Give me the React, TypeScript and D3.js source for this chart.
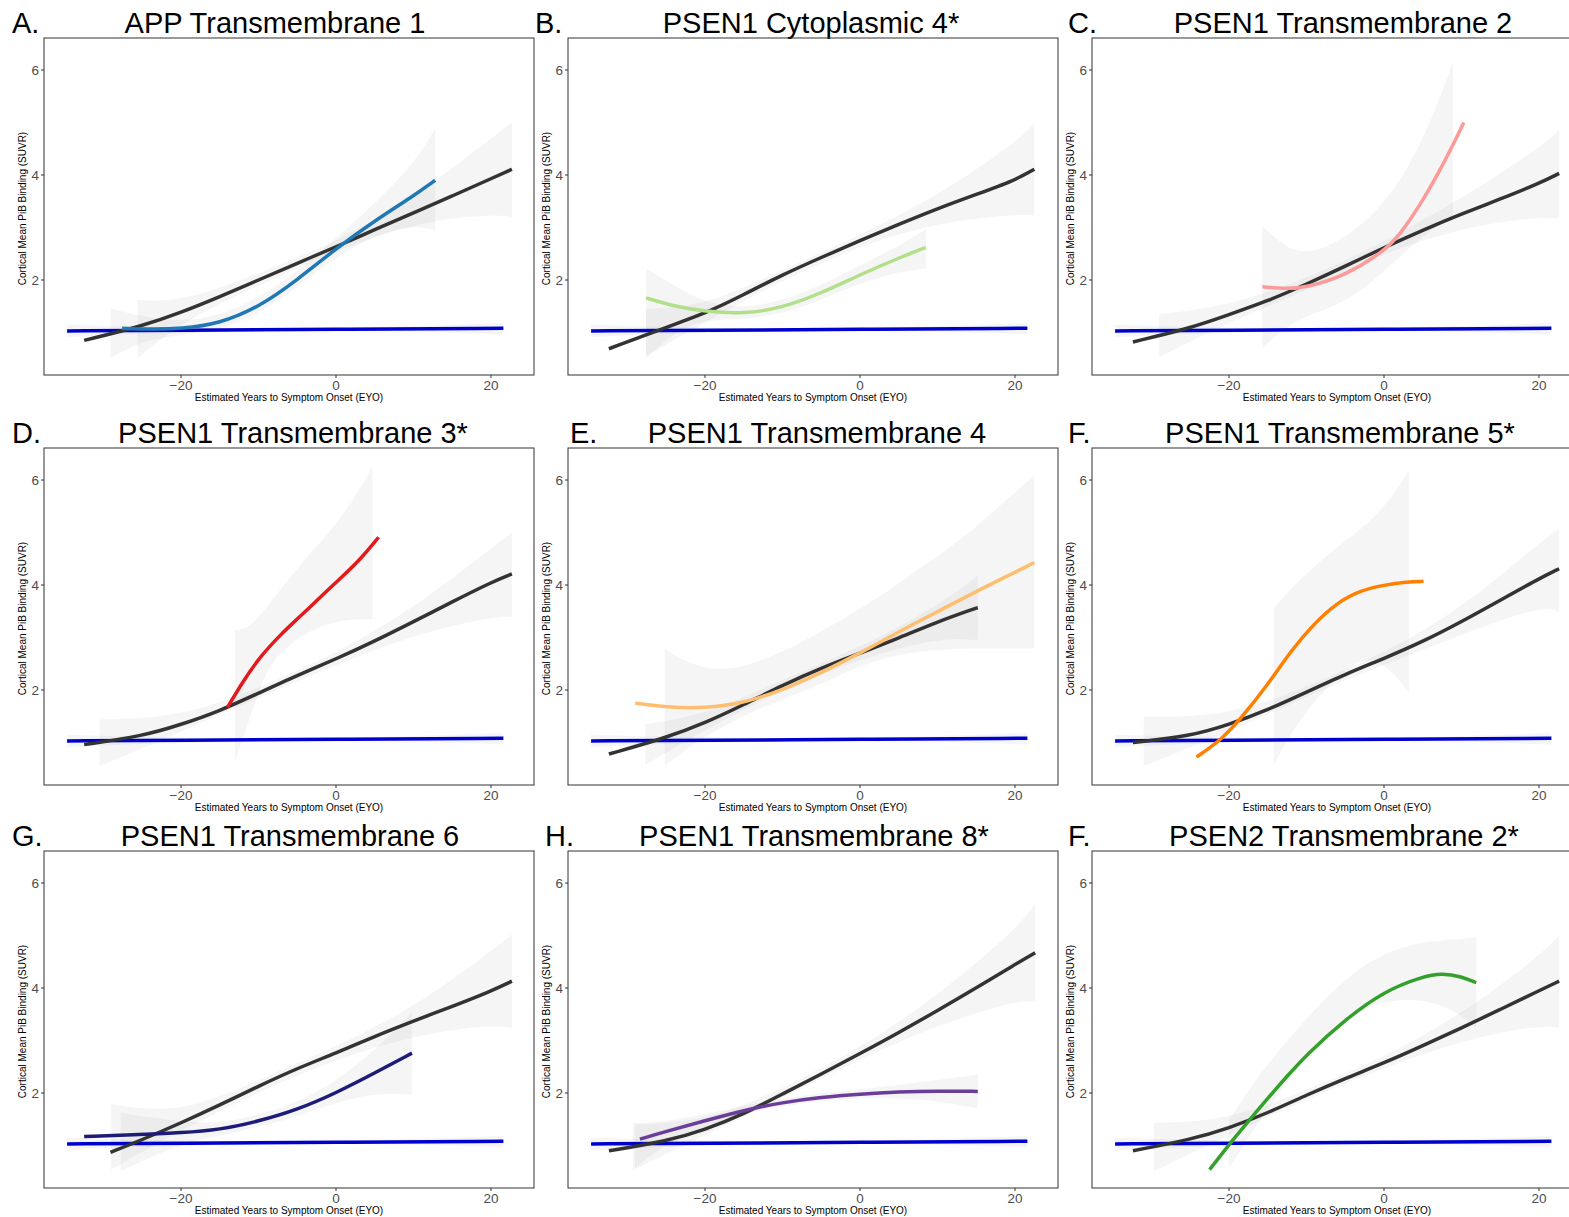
import * as d3 from "d3";

type Pt = [number, number];
type Band = [number, number, number];

const panelLetters = ["A.", "B.", "C.", "D.", "E.", "F.", "G.", "H.", "F."];
const panelTitles = [
  "APP Transmembrane 1",
  "PSEN1 Cytoplasmic 4*",
  "PSEN1 Transmembrane 2",
  "PSEN1 Transmembrane 3*",
  "PSEN1 Transmembrane 4",
  "PSEN1 Transmembrane 5*",
  "PSEN1 Transmembrane 6",
  "PSEN1 Transmembrane 8*",
  "PSEN2 Transmembrane 2*",
];
const groupColors = ["#1f78b4", "#b2df8a", "#fb9a99", "#e31a1c", "#fdbf6f", "#ff7f00", "#1c1c78", "#6a3d9a", "#33a02c"];

const xTicks = [-20, 0, 20];
const yTicks = [2, 4, 6];
const xLabel = "Estimated Years to Symptom Onset (EYO)";
const yLabel = "Cortical Mean PiB Binding (SUVR)";

// non-carriers, same in every panel
const controlLine: Pt[] = [[-34.7, 1.03], [-20, 1.04], [0, 1.06], [21.6, 1.08]];
const controlBand: Band[] = [[-34.7, 0.91, 1.15], [-25, 0.98, 1.1], [-10, 1.02, 1.08], [0, 1.03, 1.09], [10, 1.02, 1.12], [21.6, 0.96, 1.18]];

// all other carriers (dark curve)
const otherLines: Pt[][] = [
  [[-32.5, 0.85], [-25, 1.12], [-20, 1.38], [-15, 1.68], [-10, 2.0], [-5, 2.32], [0, 2.63], [5, 2.96], [10, 3.28], [15, 3.6], [20, 3.93], [22.7, 4.11]],
  [[-32.4, 0.69], [-25, 1.1], [-20, 1.36], [-15, 1.72], [-10, 2.1], [-5, 2.43], [0, 2.75], [5, 3.06], [10, 3.36], [15, 3.63], [20, 3.9], [22.5, 4.11]],
  [[-32.4, 0.82], [-25, 1.08], [-20, 1.34], [-15, 1.6], [-10, 1.92], [-5, 2.26], [0, 2.62], [5, 2.95], [10, 3.26], [15, 3.54], [20, 3.84], [22.6, 4.03]],
  [[-32.5, 0.96], [-25, 1.12], [-20, 1.34], [-15, 1.6], [-10, 1.94], [-5, 2.28], [0, 2.59], [5, 2.93], [10, 3.3], [15, 3.68], [20, 4.05], [22.7, 4.21]],
  [[-32.4, 0.78], [-25, 1.09], [-20, 1.37], [-15, 1.72], [-10, 2.09], [-5, 2.42], [0, 2.7], [5, 2.99], [10, 3.3], [15.2, 3.57]],
  [[-32.4, 1.0], [-25, 1.12], [-20, 1.34], [-15, 1.62], [-10, 1.96], [-5, 2.3], [0, 2.6], [5, 2.92], [10, 3.3], [15, 3.71], [20, 4.12], [22.6, 4.31]],
  [[-29.1, 0.87], [-25, 1.11], [-20, 1.43], [-15, 1.77], [-10, 2.13], [-5, 2.47], [0, 2.76], [5, 3.08], [10, 3.37], [15, 3.65], [20, 3.94], [22.7, 4.13]],
  [[-32.4, 0.9], [-25, 1.08], [-20, 1.3], [-15, 1.6], [-10, 1.98], [-5, 2.36], [0, 2.75], [5, 3.15], [10, 3.57], [15, 4.0], [20, 4.45], [22.6, 4.67]],
  [[-32.4, 0.9], [-25, 1.11], [-20, 1.33], [-15, 1.62], [-10, 1.96], [-5, 2.28], [0, 2.57], [5, 2.9], [10, 3.24], [15, 3.59], [20, 3.95], [22.6, 4.13]],
];
const otherBands: Band[][] = [
  [[-25.6, 0.51, 1.62], [-20, 1.2, 1.58], [-10, 1.9, 2.12], [0, 2.55, 2.72], [10, 3.1, 3.55], [20, 3.25, 4.7], [22.7, 3.2, 5.0]],
  [[-27.6, 0.55, 1.45], [-20, 1.2, 1.5], [-10, 2.0, 2.2], [0, 2.65, 2.85], [10, 3.1, 3.6], [20, 3.25, 4.6], [22.5, 3.23, 4.99]],
  [[-29, 0.53, 1.35], [-20, 1.2, 1.5], [-10, 1.8, 2.02], [0, 2.52, 2.72], [10, 3.0, 3.55], [20, 3.2, 4.5], [22.6, 3.17, 4.86]],
  [[-30.5, 0.55, 1.44], [-20, 1.2, 1.48], [-10, 1.85, 2.03], [0, 2.48, 2.7], [10, 3.05, 3.55], [20, 3.4, 4.7], [22.7, 3.39, 5.0]],
  [[-27.7, 0.57, 1.35], [-20, 1.25, 1.52], [-10, 2.0, 2.2], [0, 2.6, 2.8], [10, 3.0, 3.6], [15.2, 2.95, 4.18]],
  [[-31, 0.55, 1.49], [-20, 1.2, 1.5], [-10, 1.88, 2.06], [0, 2.48, 2.7], [10, 3.05, 3.55], [20, 3.6, 4.8], [22.6, 3.5, 5.07]],
  [[-29, 0.54, 1.78], [-20, 1.3, 1.6], [-10, 2.02, 2.25], [0, 2.65, 2.88], [10, 3.1, 3.62], [20, 3.3, 4.7], [22.7, 3.24, 5.02]],
  [[-29, 0.55, 1.4], [-20, 1.2, 1.45], [-10, 1.9, 2.08], [0, 2.65, 2.85], [10, 3.3, 3.85], [20, 3.75, 5.1], [22.6, 3.75, 5.59]],
  [[-29.7, 0.51, 1.43], [-20, 1.2, 1.48], [-10, 1.88, 2.06], [0, 2.48, 2.67], [10, 3.0, 3.5], [20, 3.3, 4.6], [22.6, 3.24, 5.0]],
];

// mutation-group curves
const groupLines: Pt[][] = [
  [[-27.6, 1.08], [-24, 1.06], [-20, 1.07], [-15, 1.17], [-10, 1.48], [-5, 2.0], [0, 2.6], [5, 3.13], [10, 3.6], [12.8, 3.9]],
  [[-27.6, 1.66], [-24, 1.5], [-20, 1.4], [-15, 1.35], [-10, 1.47], [-5, 1.75], [0, 2.1], [5, 2.42], [8.5, 2.62]],
  [[-15.7, 1.87], [-12.5, 1.83], [-10, 1.86], [-5, 2.08], [0, 2.55], [2, 2.85], [5, 3.5], [8, 4.3], [10.3, 5.0]],
  [[-14, 1.67], [-12, 2.16], [-10, 2.6], [-7, 3.08], [-5, 3.35], [-2, 3.77], [0, 4.05], [3, 4.46], [5.5, 4.91]],
  [[-29, 1.75], [-25, 1.67], [-20, 1.65], [-15, 1.75], [-10, 2.0], [-5, 2.33], [0, 2.7], [5, 3.11], [10, 3.49], [15, 3.88], [20, 4.24], [22.5, 4.43]],
  [[-24.2, 0.72], [-21, 1.05], [-18.5, 1.45], [-15, 2.1], [-12, 2.75], [-9, 3.27], [-6, 3.67], [-3, 3.9], [0, 4.0], [3, 4.06], [5.1, 4.07]],
  [[-32.5, 1.17], [-25, 1.21], [-20, 1.24], [-15, 1.3], [-10, 1.46], [-5, 1.68], [0, 2.0], [5, 2.38], [9.8, 2.76]],
  [[-28.4, 1.12], [-25, 1.27], [-20, 1.47], [-15, 1.67], [-10, 1.82], [-5, 1.92], [0, 1.98], [5, 2.02], [10, 2.04], [15.2, 2.03]],
  [[-22.5, 0.54], [-20, 1.02], [-17.5, 1.46], [-15, 1.9], [-12.5, 2.32], [-10, 2.73], [-5, 3.4], [0, 3.94], [5, 4.22], [7.5, 4.28], [10, 4.22], [11.9, 4.1]],
];
const groupBands: Band[][] = [
  [[-29.1, 0.51, 1.46], [-25, 0.85, 1.3], [-20, 0.95, 1.2], [-15, 1.05, 1.32], [-10, 1.35, 1.65], [-5, 1.85, 2.15], [0, 2.45, 2.8], [5, 2.85, 3.45], [10, 3.05, 4.2], [12.8, 2.95, 4.88]],
  [[-27.6, 0.51, 2.22], [-24, 1.0, 1.9], [-20, 1.25, 1.56], [-15, 1.25, 1.46], [-10, 1.35, 1.6], [-5, 1.62, 1.9], [0, 1.95, 2.28], [5, 2.15, 2.65], [8.5, 2.22, 2.96]],
  [[-15.7, 0.7, 3.03], [-11.7, 1.24, 2.47], [-7.4, 1.43, 2.6], [-3.1, 1.75, 3.0], [1.2, 2.33, 3.65], [5.5, 2.9, 4.78], [8.9, 3.2, 6.15]],
  [[-13.05, 0.64, 3.14], [-11.4, 1.34, 3.17], [-9.6, 2.16, 3.45], [-7.8, 2.66, 3.8], [-3.3, 3.17, 4.62], [1.1, 3.35, 5.32], [4.7, 3.35, 6.25]],
  [[-25.2, 0.55, 2.78], [-21.7, 0.96, 2.47], [-17.3, 1.34, 2.35], [-13, 1.65, 2.54], [-8.6, 1.9, 2.82], [-4.3, 2.16, 3.17], [0.1, 2.47, 3.55], [4.4, 2.66, 3.96], [8.8, 2.76, 4.43], [13.2, 2.79, 4.88], [17.5, 2.79, 5.44], [22.5, 2.79, 6.09]],
  [[-14.2, 0.58, 3.56], [-11.7, 1.27, 3.99], [-8.3, 1.91, 4.45], [-4.9, 2.41, 4.85], [-1.8, 2.66, 5.2], [1.2, 2.35, 5.7], [3.2, 1.94, 6.17]],
  [[-27.8, 0.51, 1.62], [-20, 1.05, 1.45], [-15, 1.18, 1.42], [-10, 1.35, 1.58], [-5, 1.55, 1.82], [0, 1.82, 2.22], [5, 2.0, 2.8], [9.8, 1.97, 3.54]],
  [[-29.3, 0.54, 1.43], [-25, 1.05, 1.45], [-20, 1.35, 1.6], [-15, 1.6, 1.75], [-10, 1.75, 1.9], [-5, 1.85, 2.0], [0, 1.9, 2.07], [5, 1.9, 2.15], [10, 1.85, 2.25], [15.2, 1.71, 2.35]],
  [[-20, 0.57, 1.49], [-16, 1.49, 2.38], [-11.7, 2.38, 3.14], [-7.4, 3.14, 3.84], [-3.1, 3.59, 4.41], [1.2, 3.78, 4.73], [5.5, 3.78, 4.89], [9.8, 3.52, 4.93], [11.9, 3.24, 4.97]],
];

// layout
const colLeft = [44, 568, 1092];
const rowTop = [38, 448, 851];
const PW = 490;
const PH = 337;
const xDomain: [number, number] = [-37.68, 25.55];
const yDomain: [number, number] = [0.19, 6.61];
const letterX = [12, 535, 1068, 12, 570, 1068, 12, 545, 1068];
const titleDx = [-14, -2, 6, 4, 4, 3, 1, 1, 7];
const font = "'Liberation Sans', Arial, Helvetica, sans-serif";

function Panel({ i }: { i: number }) {
  const left = colLeft[i % 3];
  const top = rowTop[Math.floor(i / 3)];
  const x = d3.scaleLinear().domain(xDomain).range([left, left + PW]);
  const y = d3.scaleLinear().domain(yDomain).range([top + PH, top]);
  const line = d3.line<Pt>().x(d => x(d[0])).y(d => y(d[1])).curve(d3.curveBasis);
  const area = d3.area<Band>().x(d => x(d[0])).y0(d => y(d[1])).y1(d => y(d[2])).curve(d3.curveBasis);
  const cx = left + PW / 2;
  const bandFill = "#9a9a9a";
  const bandOp = 0.1;
  return (
    <g>
      <text x={letterX[i]} y={top - 5} fontSize={29} fontFamily={font} fill="#000">{panelLetters[i]}</text>
      <text x={cx + titleDx[i]} y={top - 5} fontSize={29} fontFamily={font} fill="#000" textAnchor="middle">{panelTitles[i]}</text>
      <path d={area(controlBand) || ""} fill={bandFill} opacity={bandOp} />
      <path d={area(otherBands[i]) || ""} fill={bandFill} opacity={bandOp} />
      <path d={area(groupBands[i]) || ""} fill={bandFill} opacity={bandOp} />
      <path d={line(controlLine) || ""} fill="none" stroke="#0000cd" strokeWidth={3.5} />
      <path d={line(otherLines[i]) || ""} fill="none" stroke="#333333" strokeWidth={3.5} />
      <path d={line(groupLines[i]) || ""} fill="none" stroke={groupColors[i]} strokeWidth={3.5} />
      <rect x={left} y={top} width={PW} height={PH} fill="none" stroke="#333" strokeWidth={1} />
      {yTicks.map(t => (
        <g key={"y" + t}>
          <line x1={left - 3} x2={left} y1={y(t)} y2={y(t)} stroke="#333" />
          <text x={left - 5} y={y(t)} dy="0.35em" fontSize={13.5} fontFamily={font} fill="#4d4d4d" textAnchor="end">{t}</text>
        </g>
      ))}
      {xTicks.map(t => (
        <g key={"x" + t}>
          <line x1={x(t)} x2={x(t)} y1={top + PH} y2={top + PH + 3} stroke="#333" />
          <text x={x(t)} y={top + PH + 4} dy="0.8em" fontSize={13.5} fontFamily={font} fill="#4d4d4d" textAnchor="middle">{t < 0 ? "\u2212" + Math.abs(t) : t}</text>
        </g>
      ))}
      <text x={cx} y={top + PH + 26} fontSize={10} fontFamily={font} fill="#000" textAnchor="middle">{xLabel}</text>
      <text transform={`translate(${left - 18},${top + PH / 2 + 2}) rotate(-90)`} fontSize={10} fontFamily={font} fill="#000" textAnchor="middle">{yLabel}</text>
    </g>
  );
}

export default function App() {
  return (
    <svg width={1569} height={1217} style={{ position: "absolute", left: 0, top: 0, background: "#fff" }}>
      <rect width={1569} height={1217} fill="#fff" />
      {panelTitles.map((_, i) => <Panel key={i} i={i} />)}
    </svg>
  );
}
